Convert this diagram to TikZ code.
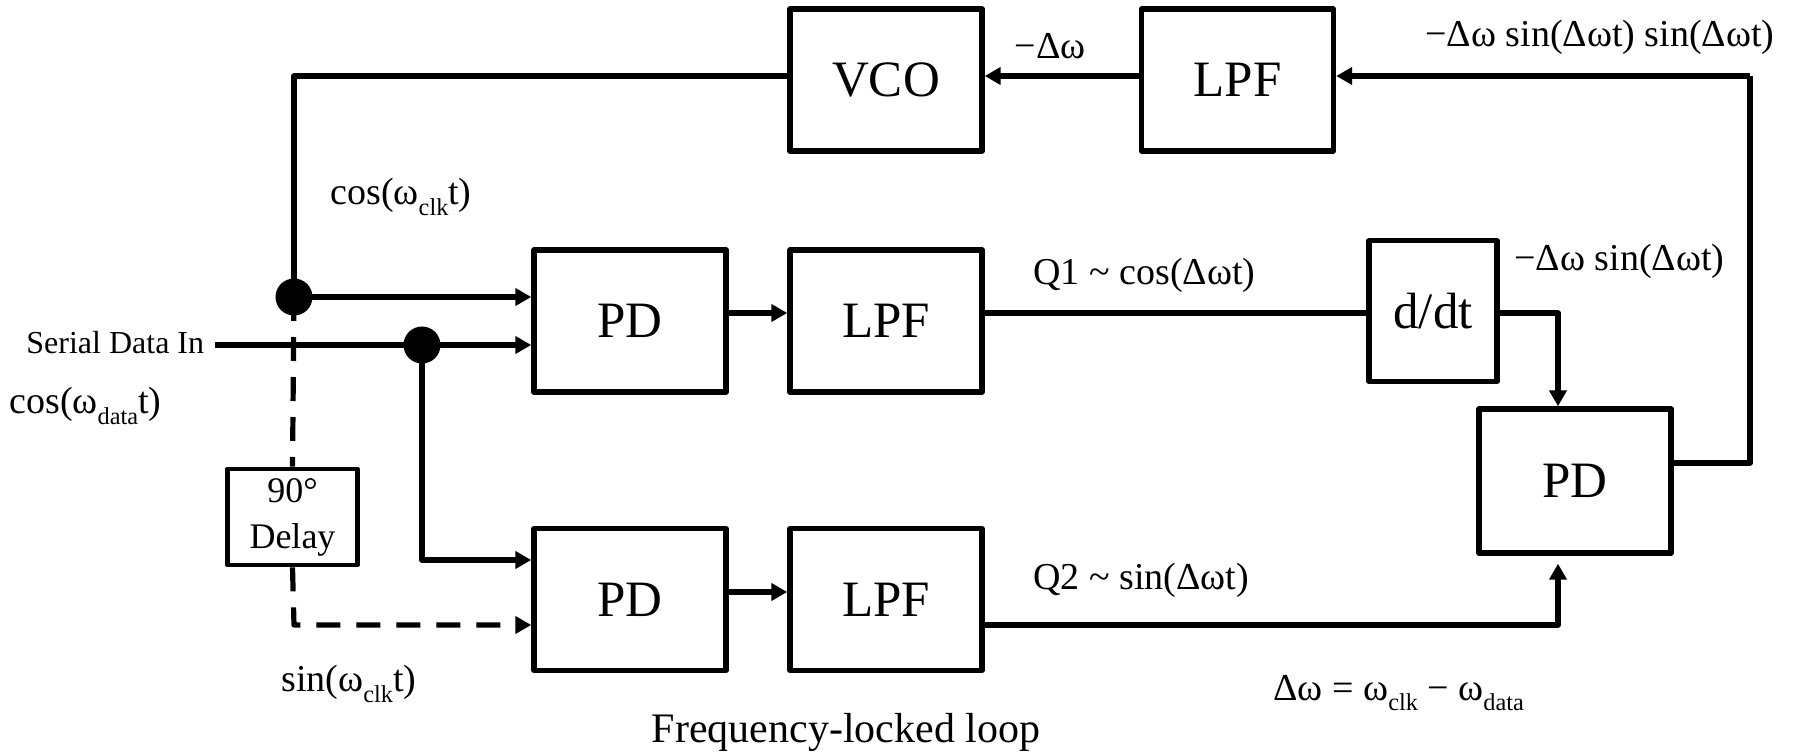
\documentclass[tikz,border=0pt]{standalone}
\usepackage{fontspec}
\setmainfont{Liberation Serif}
\usetikzlibrary{arrows.meta}
\newcommand\sbs[1]{\raisebox{-0.27em}{\scalebox{0.64}{#1}}}
\tikzset{
  blk/.style={draw, line width=2.7pt, line join=round, minimum width=96pt, minimum height=71pt, inner sep=0pt,
    font=\fontsize{25.5pt}{28pt}\selectfont},
  wire/.style={line width=2.6pt, line join=round},
  arr/.style={wire, -{Triangle[length=8pt,width=8.5pt]}},
  dsh/.style={dash pattern=on 12pt off 8pt},
  lbl/.style={inner sep=0pt, font=\fontsize{19pt}{22pt}\selectfont},
  dot/.style={circle, fill=black, minimum size=18.5pt, inner sep=0pt},
}
\begin{document}
\begin{tikzpicture}[x=0.5pt,y=-0.5pt]
\useasboundingbox (0,0) rectangle (1794,753);
% blocks
\node[blk] (vco) at (886,80) {VCO};
\node[blk] (lpft) at (1237.5,80) {LPF};
\node[blk] (pd1) at (630,321) {PD};
\node[blk] (lpf1) at (886,321) {LPF};
\node[blk] (pd2) at (630,599.5) {PD};
\node[blk] (lpf2) at (886,599.5) {LPF};
\node[blk, minimum width=64pt, minimum height=70.5pt] (ddt) at (1433,311) {d/dt};
\node[blk, minimum height=72pt] (pd3) at (1575,481) {PD};
\node[blk, minimum width=65pt, minimum height=48pt, line width=2.4pt, align=center,
  font=\fontsize{18pt}{23pt}\selectfont] (dly) at (292.5,517) {90°\\Delay};
% junction dots
\node[dot] (dot1) at (294,297) {};
\node[dot] (dot2) at (422,345) {};
% routing points
\coordinate (vl) at (294,76);
\coordinate (sdi) at (215,345);
\coordinate (d2b) at (422,560);
\coordinate (dlb) at (294,625);
\coordinate (q1) at (1000,313);
\coordinate (q2) at (1000,592);
\coordinate (ddo) at (1558,313);
\coordinate (l2o) at (1558,625);
\coordinate (rtop) at (1750,76);
\coordinate (rbot) at (1750,463);
% connectors
\draw[arr] (lpft.west |- vl) -- (vco.east |- vl);
\draw[wire] (vco.west |- vl) -- (vl) -- (dot1.center);
\draw[arr] (dot1.center) -- (pd1.west |- dot1);
\draw[arr] (sdi) -- (pd1.west |- sdi);
\draw[arr] (dot2.center) -- (d2b) -- (pd2.west |- d2b);
\draw[wire, dsh] (dot1.center) -- (dly.north);
\draw[wire, dsh, -{Triangle[length=8pt,width=8.5pt]}] (dly.south) -- (dlb) -- (pd2.west |- dlb);
\draw[arr] (pd1.east |- q1) -- (lpf1.west |- q1);
\draw[wire] (lpf1.east |- q1) -- (ddt.west |- q1);
\draw[arr] (ddt.east |- ddo) -- (ddo) -- (pd3.north -| ddo);
\draw[arr] (pd2.east |- q2) -- (lpf2.west |- q2);
\draw[arr, shorten >=4pt] (lpf2.east |- l2o) -- (l2o) -- (pd3.south -| l2o);
\draw[wire] (pd3.east |- rbot) -- (rbot) -- (rtop);
\draw[arr] (rtop) -- (lpft.east |- rtop);
% labels
\node[lbl, anchor=center] (lw) at (1050,46) {−Δω};
\node[lbl, anchor=east] (lr) at (1775,37) {−Δω sin(Δωt) sin(Δωt)};
\node[lbl, anchor=west] (lc) at (330,197) {cos(ω\sbs{clk}t)};
\node[lbl, anchor=west] (lq1) at (1033,275) {Q1 \textasciitilde{} cos(Δωt)};
\node[lbl, anchor=west] (ls) at (1514,261) {−Δω sin(Δωt)};
\node[lbl, anchor=west, font=\fontsize{16pt}{19pt}\selectfont] (lsd) at (26,343) {Serial Data In};
\node[lbl, anchor=west] (ld) at (9,406) {cos(ω\sbs{data}t)};
\node[lbl, anchor=west] (lq2) at (1033,580) {Q2 \textasciitilde{} sin(Δωt)};
\node[lbl, anchor=west] (lsc) at (281,684) {sin(ω\sbs{clk}t)};
\node[lbl, anchor=west] (leq) at (1273,693) {Δω = ω\sbs{clk} − ω\sbs{data}};
\node[lbl, anchor=center, font=\fontsize{21pt}{24pt}\selectfont] (title) at (846,732) {Frequency-locked loop};
\end{tikzpicture}
\end{document}
